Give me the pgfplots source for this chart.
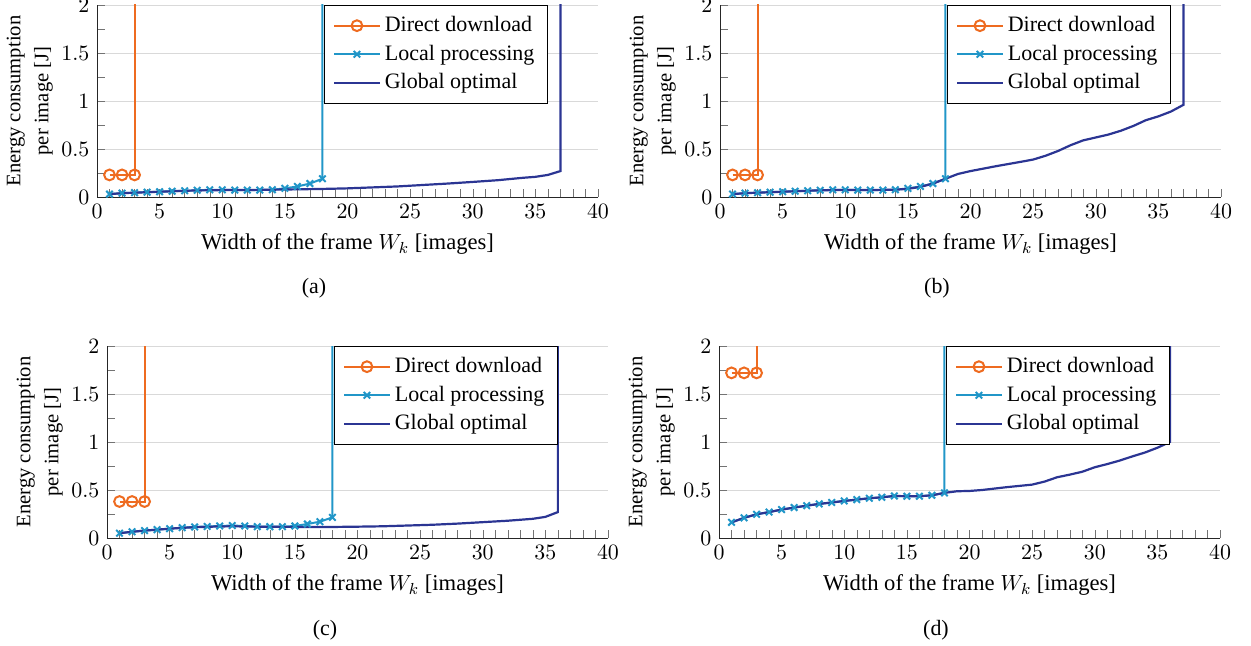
\documentclass[11pt,border=0pt]{standalone}
\usepackage[no-math]{fontspec}
\setmainfont{Liberation Serif}
\usepackage{pgfplots}
\pgfplotsset{compat=1.18}
\definecolor{ddorange}{HTML}{EE6B20}
\definecolor{lpblue}{HTML}{2196C8}
\definecolor{gonavy}{HTML}{2B3593}
\pgfplotsset{
  energy/.style={
    scale only axis, width=250.5pt, height=96pt,
    xmin=0, xmax=40, ymin=0, ymax=2,
    xtick={0,5,...,40}, ytick={0,0.5,1,1.5,2},
    minor x tick num=4, minor y tick num=1,
    axis x line*=bottom, axis y line*=left,
    axis line style={black!85},
    tick align=inside, tick style={black!55},
    major tick length=4pt, minor tick length=4pt,
    ymajorgrids, grid style={black!15},
    xlabel={Width of the frame $W_k$ [images]},
    xlabel style={font=\fontsize{11.3pt}{13.6pt}\selectfont},
    ylabel={Energy consumption\\per image [J]},
    ylabel style={align=center, at={(axis description cs:-0.134,0.5)}, anchor=center,
      font=\fontsize{10.3pt}{14pt}\selectfont},
    legend style={at={(0.9,1)}, anchor=north east, draw=black, fill=white,
      cells={anchor=west}, row sep=1pt, inner xsep=4.5pt, inner ysep=3.5pt,
      font=\fontsize{11pt}{13.6pt}\selectfont},
    legend image code/.code={
      \draw[mark repeat=2,mark phase=2,##1] plot coordinates {(0cm,0cm) (0.4cm,0cm) (0.8cm,0cm)};},
  },
  dd/.style={color=ddorange, line width=1pt, mark=o, mark size=2.7pt, mark options={solid}},
  lp/.style={color=lpblue, line width=1pt, mark=x, mark size=2.3pt, mark options={solid}},
  go/.style={color=gonavy, line width=1.1pt, no marks},
}
\begin{document}
\begin{tikzpicture}
% (a)
\begin{axis}[energy, at={(48.5pt,-98.5pt)}, anchor=south west]
  \addplot[dd] coordinates {(1,0.23) (2,0.23) (3,0.23) (3,10)};
  \addplot[lp] coordinates {(1,0.03) (2,0.04) (3,0.045) (4,0.05) (5,0.055) (6,0.06) (7,0.065) (8,0.07) (9,0.075) (10,0.075) (11,0.072) (12,0.072) (13,0.072) (14,0.076) (15,0.09) (16,0.11) (17,0.14) (18,0.19) (18,10)};
  \addplot[go] coordinates {(1,0.03) (2,0.04) (3,0.045) (4,0.05) (5,0.055) (6,0.06) (7,0.065) (8,0.068) (9,0.07) (10,0.072) (12,0.073) (14,0.076) (16,0.08) (18,0.084) (20,0.09) (22,0.1) (24,0.11) (26,0.125) (28,0.14) (30,0.157) (32,0.175) (34,0.2) (35,0.21) (36,0.23) (37,0.27) (37,10)};
  \legend{Direct download, Local processing, Global optimal}
\end{axis}
% (b)
\begin{axis}[energy, at={(360pt,-98.5pt)}, anchor=south west]
  \addplot[dd] coordinates {(1,0.23) (2,0.23) (3,0.23) (3,10)};
  \addplot[lp] coordinates {(1,0.03) (2,0.04) (3,0.045) (4,0.05) (5,0.055) (6,0.06) (7,0.065) (8,0.07) (9,0.075) (10,0.075) (11,0.072) (12,0.072) (13,0.072) (14,0.076) (15,0.09) (16,0.11) (17,0.14) (18,0.19) (18,10)};
  \addplot[go] coordinates {(1,0.03) (2,0.04) (3,0.045) (4,0.05) (5,0.055) (6,0.06) (7,0.065) (8,0.07) (9,0.072) (10,0.073) (12,0.073) (14,0.076) (15,0.085) (16,0.105) (17,0.14) (18,0.19) (19,0.24) (20,0.27) (22,0.32) (24,0.366) (25,0.39) (26,0.43) (27,0.48) (28,0.54) (29,0.59) (30,0.62) (31,0.65) (32,0.69) (33,0.74) (34,0.8) (35,0.84) (36,0.89) (37,0.96) (37,10)};
  \legend{Direct download, Local processing, Global optimal}
\end{axis}
% (c)
\begin{axis}[energy, at={(53.5pt,-269pt)}, anchor=south west]
  \addplot[dd] coordinates {(1,0.38) (2,0.38) (3,0.38) (3,10)};
  \addplot[lp] coordinates {(1,0.05) (2,0.065) (3,0.077) (4,0.087) (5,0.097) (6,0.108) (7,0.115) (8,0.12) (9,0.125) (10,0.13) (11,0.125) (12,0.118) (13,0.118) (14,0.118) (15,0.125) (16,0.146) (17,0.17) (18,0.215) (18,10)};
  \addplot[go] coordinates {(1,0.05) (2,0.065) (3,0.077) (4,0.087) (5,0.097) (6,0.106) (7,0.112) (8,0.117) (9,0.12) (10,0.122) (12,0.118) (14,0.116) (16,0.115) (18,0.115) (20,0.118) (22,0.122) (24,0.13) (26,0.138) (28,0.15) (30,0.165) (32,0.18) (34,0.2) (35,0.22) (36,0.27) (36,10)};
  \legend{Direct download, Local processing, Global optimal}
\end{axis}
% (d)
\begin{axis}[energy, at={(359.5pt,-269pt)}, anchor=south west]
  \addplot[dd] coordinates {(1,1.72) (2,1.72) (3,1.72) (3,10)};
  \addplot[lp] coordinates {(1,0.163) (2,0.21) (3,0.247) (4,0.27) (5,0.296) (6,0.317) (7,0.337) (8,0.355) (9,0.37) (10,0.386) (11,0.4) (12,0.414) (13,0.424) (14,0.438) (15,0.435) (16,0.435) (17,0.445) (18,0.47) (18,10)};
  \addplot[go] coordinates {(1,0.163) (2,0.21) (3,0.247) (4,0.27) (5,0.296) (6,0.317) (7,0.337) (8,0.355) (9,0.37) (10,0.386) (11,0.4) (12,0.414) (13,0.424) (14,0.438) (15,0.435) (16,0.435) (17,0.445) (18,0.47) (19,0.487) (20,0.49) (21,0.5) (22,0.515) (23,0.53) (24,0.543) (25,0.556) (26,0.588) (27,0.633) (28,0.66) (29,0.69) (30,0.737) (31,0.77) (32,0.807) (33,0.85) (34,0.89) (35,0.94) (36,1.0) (36,10)};
  \legend{Direct download, Local processing, Global optimal}
\end{axis}
\node at (157pt,-144pt) {(a)};
\node at (468.5pt,-144pt) {(b)};
\node at (162.5pt,-315pt) {(c)};
\node at (468pt,-315pt) {(d)};
\pgfresetboundingbox
\path[use as bounding box] (0pt,0pt) rectangle (625.5pt,-323pt);
\end{tikzpicture}
\end{document}
